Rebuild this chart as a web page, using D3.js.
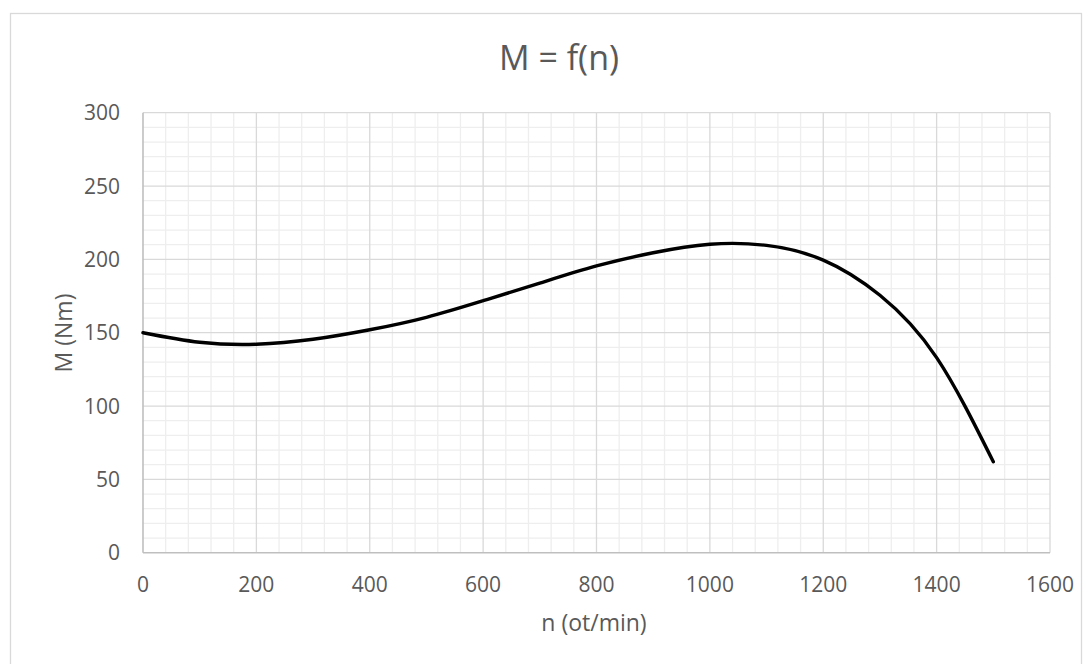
<!DOCTYPE html>
<html>
<head>
<meta charset="utf-8">
<script src="https://cdn.jsdelivr.net/npm/d3@7"></script>
<style>
  html, body { margin: 0; padding: 0; background: #ffffff; }
  svg { display: block; }
  text { font-family: "Open Sans", "Liberation Sans", sans-serif; fill: #595959; }
</style>
</head>
<body>
<svg id="chart" width="1091" height="664"></svg>
<script>
// Torque M (Nm) against speed n (ot/min)
const speed  = [0, 100, 200, 300, 400, 500, 600, 700, 800, 900, 1000, 1100, 1200, 1300, 1400, 1500];
const torque = [150, 143.5, 142.1, 145.5, 152, 160.5, 171.8, 183.8, 195.5, 204.5, 210.3, 209.5, 199.5, 175.5, 133, 62];
const xTicks = [0, 200, 400, 600, 800, 1000, 1200, 1400, 1600];
const yTicks = [0, 50, 100, 150, 200, 250, 300];

const chartTitle = "M = f(n)";
const xTitle = "n (ot/min)";
const yTitle = "M (Nm)";

const svg = d3.select("#chart");
const plot = { left: 143, right: 1050, top: 112.7, bottom: 552.7 };

// Outer chart frame
svg.append("rect")
  .attr("x", 10.5).attr("y", 13.5)
  .attr("width", 1071).attr("height", 700)
  .attr("fill", "#ffffff")
  .attr("stroke", "#d9d9d9").attr("stroke-width", 1.3);

const x = d3.scaleLinear().domain([0, 1600]).range([plot.left, plot.right]);
const y = d3.scaleLinear().domain([0, 300]).range([plot.bottom, plot.top]);

// Minor gridlines
const g = svg.append("g");
g.append("g").selectAll("line").data(d3.range(0, 1601, 40).filter(v => v % 200 !== 0))
  .join("line")
  .attr("x1", d => x(d)).attr("x2", d => x(d))
  .attr("y1", plot.top).attr("y2", plot.bottom)
  .attr("stroke", "#eeeeee").attr("stroke-width", 1.3);
g.append("g").selectAll("line").data(d3.range(0, 301, 10).filter(v => v % 50 !== 0))
  .join("line")
  .attr("x1", plot.left).attr("x2", plot.right)
  .attr("y1", d => y(d)).attr("y2", d => y(d))
  .attr("stroke", "#eeeeee").attr("stroke-width", 1.3);

// Major gridlines
g.append("g").selectAll("line").data(xTicks.slice(1))
  .join("line")
  .attr("x1", d => x(d)).attr("x2", d => x(d))
  .attr("y1", plot.top).attr("y2", plot.bottom)
  .attr("stroke", "#d9d9d9").attr("stroke-width", 1.3);
g.append("g").selectAll("line").data(yTicks.slice(1))
  .join("line")
  .attr("x1", plot.left).attr("x2", plot.right)
  .attr("y1", d => y(d)).attr("y2", d => y(d))
  .attr("stroke", "#d9d9d9").attr("stroke-width", 1.3);

// Axis lines
svg.append("line")
  .attr("x1", plot.left).attr("x2", plot.left)
  .attr("y1", plot.top).attr("y2", plot.bottom)
  .attr("stroke", "#bfbfbf").attr("stroke-width", 1.6);
svg.append("line")
  .attr("x1", plot.left).attr("x2", plot.right)
  .attr("y1", plot.bottom).attr("y2", plot.bottom)
  .attr("stroke", "#bfbfbf").attr("stroke-width", 1.6);

// Tick labels
svg.append("g").selectAll("text").data(xTicks)
  .join("text")
  .attr("x", d => x(d)).attr("y", 592)
  .attr("text-anchor", "middle")
  .attr("font-size", 21)
  .text(d => d);
svg.append("g").selectAll("text").data(yTicks)
  .join("text")
  .attr("x", 120).attr("y", d => y(d) + 7.5)
  .attr("text-anchor", "end")
  .attr("font-size", 21)
  .text(d => d);

// Titles
svg.append("text")
  .attr("x", 559).attr("y", 70)
  .attr("text-anchor", "middle")
  .attr("font-size", 34)
  .text(chartTitle);
svg.append("text")
  .attr("x", 594).attr("y", 631)
  .attr("text-anchor", "middle")
  .attr("font-size", 23)
  .text(xTitle);
svg.append("text")
  .attr("transform", "translate(72,333) rotate(-90)")
  .attr("text-anchor", "middle")
  .attr("font-size", 23)
  .text(yTitle);

// Torque curve
const line = d3.line()
  .x((d, i) => x(speed[i]))
  .y(d => y(d))
  .curve(d3.curveNatural);
svg.append("path")
  .datum(torque)
  .attr("d", line)
  .attr("fill", "none")
  .attr("stroke", "#000000")
  .attr("stroke-width", 3.4)
  .attr("stroke-linecap", "round")
  .attr("stroke-linejoin", "round");
</script>
</body>
</html>
